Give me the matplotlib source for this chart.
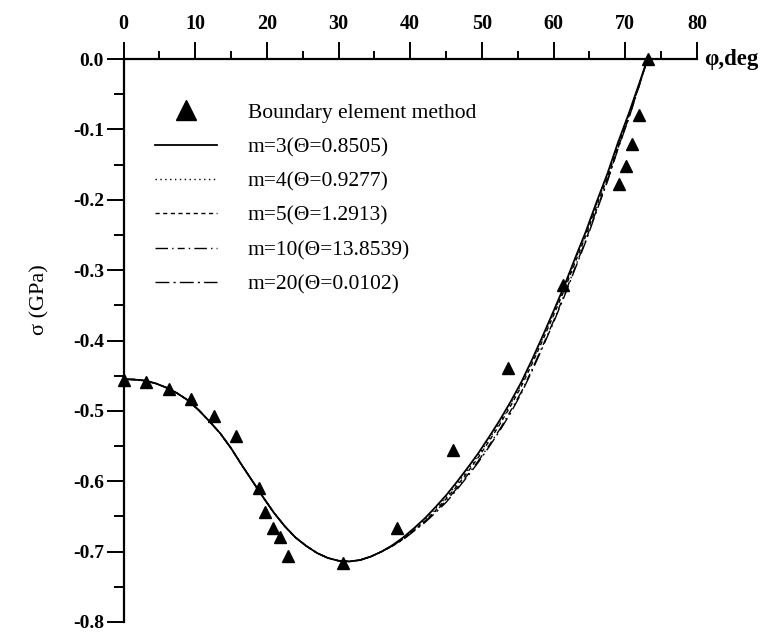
import matplotlib
matplotlib.use("Agg")
import matplotlib.pyplot as plt
from matplotlib.lines import Line2D
from matplotlib.ticker import MultipleLocator

# ---- data ----
phi_bem = [0, 3.1, 6.3, 9.4, 12.6, 15.7, 18.9, 19.8, 20.9, 21.9, 22.9,
           30.6, 38.2, 45.9, 53.6, 61.3, 69.1, 70.1, 71.0, 71.9, 73.1]
sigma_bem = [-0.456, -0.459, -0.469, -0.483, -0.507, -0.535, -0.609, -0.644,
             -0.667, -0.679, -0.706, -0.716, -0.667, -0.555, -0.439, -0.321,
             -0.178, -0.152, -0.121, -0.080, 0.0]

phi_fit = [0, 1.5, 3, 4.5, 6, 7.5, 9, 10.5, 12, 13.5, 15, 16.5, 18, 19.5, 21,
           22.5, 24, 25.5, 27, 28.5, 30, 31.5, 33, 34.5, 36, 37.5, 39, 40.5,
           42, 43.5, 45, 46.5, 48, 49.5, 51, 52.5, 54, 55.5, 57, 58.5, 60,
           61.5, 63, 64.5, 66, 67.5, 69, 70.5, 72, 73.1]
sigma_m3 = [-0.455, -0.4555, -0.457, -0.461, -0.467, -0.475, -0.485, -0.499,
            -0.515, -0.532, -0.553, -0.577, -0.600, -0.623, -0.645, -0.664,
            -0.680, -0.692, -0.702, -0.709, -0.713, -0.714, -0.712, -0.707,
            -0.700, -0.691, -0.680, -0.667, -0.653, -0.637, -0.620, -0.601,
            -0.581, -0.560, -0.537, -0.513, -0.487, -0.459, -0.427, -0.393,
            -0.358, -0.322, -0.283, -0.245, -0.203, -0.163, -0.118, -0.077,
            -0.033, 0.0]
sigma_m4 = [-0.455, -0.4555, -0.457, -0.461, -0.467, -0.475, -0.485, -0.499,
            -0.515, -0.532, -0.553, -0.577, -0.600, -0.623, -0.645, -0.664,
            -0.680, -0.692, -0.702, -0.709, -0.713, -0.714, -0.712, -0.707,
            -0.700, -0.691, -0.681, -0.668, -0.655, -0.639, -0.623, -0.604,
            -0.584, -0.563, -0.540, -0.516, -0.490, -0.462, -0.430, -0.396,
            -0.361, -0.325, -0.286, -0.248, -0.206, -0.166, -0.121, -0.079,
            -0.034, 0.0]
sigma_m5 = [-0.455, -0.4555, -0.457, -0.461, -0.467, -0.475, -0.485, -0.499,
            -0.515, -0.532, -0.553, -0.577, -0.600, -0.623, -0.645, -0.664,
            -0.680, -0.692, -0.702, -0.709, -0.713, -0.714, -0.712, -0.707,
            -0.700, -0.692, -0.682, -0.670, -0.657, -0.642, -0.625, -0.607,
            -0.587, -0.566, -0.543, -0.519, -0.493, -0.465, -0.433, -0.399,
            -0.364, -0.328, -0.289, -0.251, -0.209, -0.169, -0.123, -0.081,
            -0.035, 0.0]
sigma_m10 = [-0.455, -0.4555, -0.457, -0.461, -0.467, -0.475, -0.485, -0.499,
             -0.515, -0.532, -0.553, -0.577, -0.600, -0.623, -0.645, -0.664,
             -0.680, -0.692, -0.702, -0.709, -0.713, -0.714, -0.712, -0.707,
             -0.700, -0.692, -0.682, -0.670, -0.658, -0.643, -0.628, -0.610,
             -0.591, -0.571, -0.549, -0.526, -0.500, -0.473, -0.441, -0.407,
             -0.372, -0.335, -0.296, -0.257, -0.214, -0.173, -0.126, -0.083,
             -0.036, 0.0]
sigma_m20 = [-0.455, -0.4555, -0.457, -0.461, -0.467, -0.475, -0.485, -0.499,
             -0.515, -0.532, -0.553, -0.577, -0.600, -0.623, -0.645, -0.664,
             -0.680, -0.692, -0.702, -0.709, -0.713, -0.714, -0.712, -0.707,
             -0.700, -0.692, -0.683, -0.671, -0.659, -0.645, -0.630, -0.612,
             -0.593, -0.573, -0.551, -0.528, -0.503, -0.475, -0.443, -0.409,
             -0.374, -0.337, -0.298, -0.259, -0.216, -0.174, -0.127, -0.084,
             -0.036, 0.0]

labels = ["Boundary element method", "m=3(\u0398=0.8505)", "m=4(\u0398=0.9277)",
          "m=5(\u0398=1.2913)", "m=10(\u0398=13.8539)", "m=20(\u0398=0.0102)"]
x_ticks = [0, 10, 20, 30, 40, 50, 60, 70, 80]
y_ticks = [0.0, -0.1, -0.2, -0.3, -0.4, -0.5, -0.6, -0.7, -0.8]

# ---- style ----
plt.rcParams['font.family'] = ['Liberation Serif', 'DejaVu Serif']

fig = plt.figure(figsize=(7.64, 6.37), dpi=100)
ax = fig.add_axes([123.5/764, 1-622/637, 573.5/764, 563/637])

styles = [
    dict(ls='-', lw=1.3),
    dict(ls=(0, (1, 2.5)), lw=1.0),
    dict(ls=(0, (3, 2.5)), lw=1.0),
    dict(ls=(0, (9, 3, 1, 3, 5, 3, 1, 3)), lw=1.0),
    dict(ls=(0, (10, 3, 1.5, 3)), lw=1.0),
]
series = [sigma_m3, sigma_m4, sigma_m5, sigma_m10, sigma_m20]
for s, st in zip(series, styles):
    ax.plot(phi_fit, s, color='black', clip_on=False, **st)

ax.plot(phi_bem, sigma_bem, ls='none', marker='^', ms=8, color='black',
        clip_on=False, zorder=5)

ax.set_xlim(0, 80)
ax.set_ylim(-0.8, 0.0)

for side in ['right', 'bottom']:
    ax.spines[side].set_visible(False)
for side in ['top', 'left']:
    ax.spines[side].set_linewidth(1.6)

ax.xaxis.set_ticks_position('top')
ax.xaxis.set_label_position('top')
ax.set_xticks(x_ticks)
ax.set_xticklabels([str(v) for v in x_ticks])
ax.xaxis.set_minor_locator(MultipleLocator(5))
ax.set_yticks(y_ticks)
ax.set_yticklabels(["%.1f" % v for v in y_ticks])
ax.yaxis.set_minor_locator(MultipleLocator(0.05))

ax.tick_params(axis='x', which='major', direction='out', length=12, width=1.4,
               pad=6, labelsize=14.5)
ax.tick_params(axis='x', which='minor', direction='out', length=6, width=1.4)
ax.tick_params(axis='y', which='major', direction='out', length=12, width=1.4,
               pad=2, labelsize=14)
ax.tick_params(axis='y', which='minor', direction='out', length=7, width=1.4)
for lab in ax.get_xticklabels() + ax.get_yticklabels():
    lab.set_fontweight('bold')

fig.text(40/764, 1-300/637, "\u03c3 (GPa)", rotation=90, ha='center',
         va='center', fontsize=16)
ax.annotate("\u03c6,deg", xy=(1, 1), xycoords='axes fraction',
            xytext=(5, 0), textcoords='offset points', ha='left', va='center',
            fontsize=16.5, fontweight='bold')

handles = [Line2D([], [], ls='none', marker='^', ms=15, color='black')]
for st in styles:
    handles.append(Line2D([], [], color='black', **st))
leg = ax.legend(handles, labels, loc='upper left',
                bbox_to_anchor=(0.055, 0.922), frameon=False, fontsize=15.5,
                handlelength=2.9, handletextpad=1.4, labelspacing=0.66,
                borderpad=0, borderaxespad=0)

fig.savefig("out.png", dpi=100)
